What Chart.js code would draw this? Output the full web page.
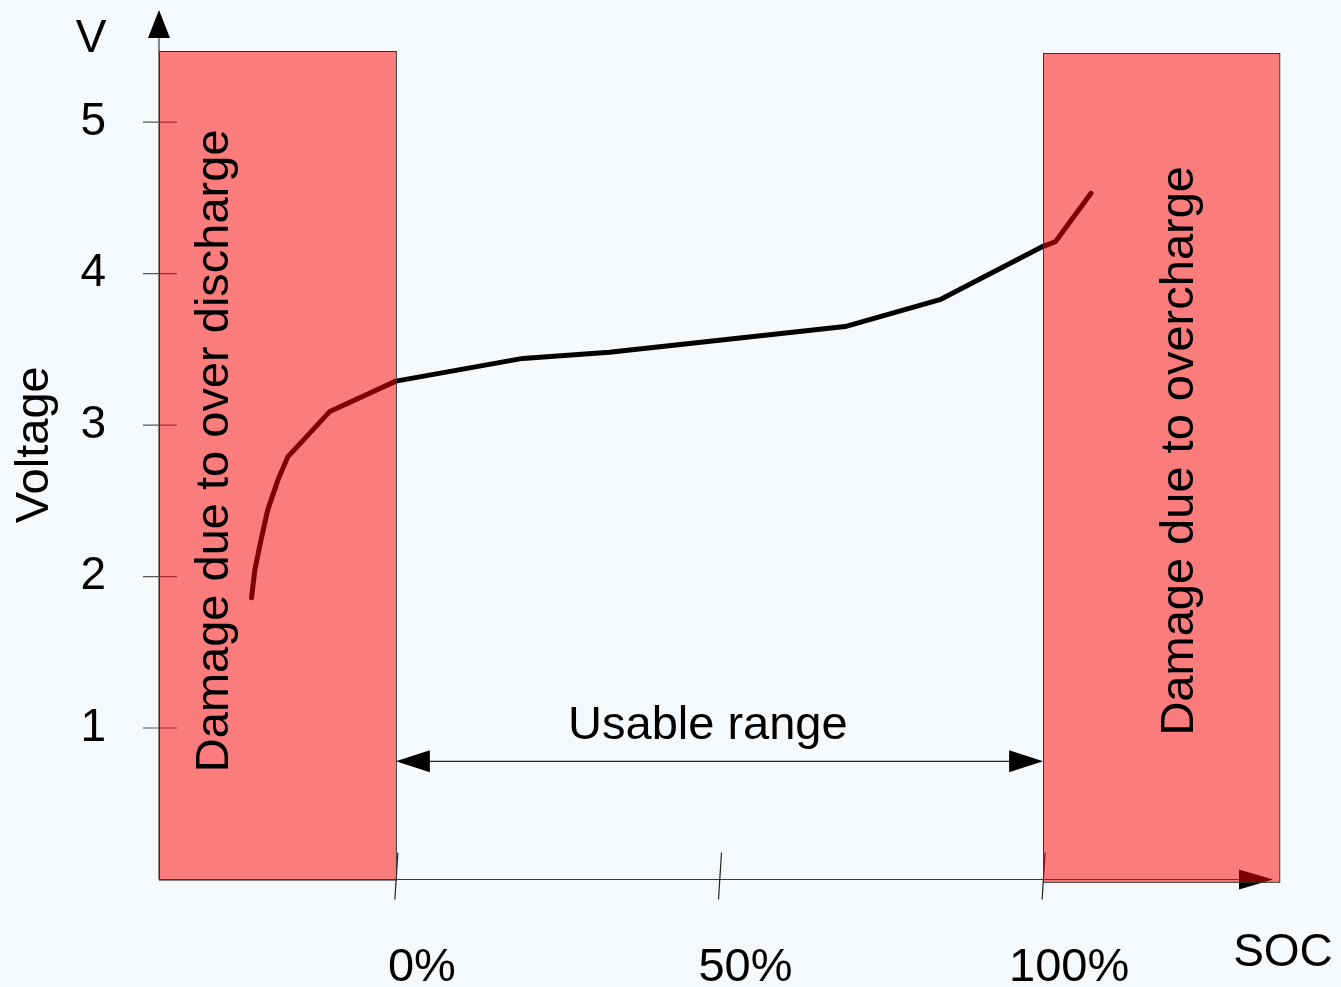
<!DOCTYPE html>
<html><head><meta charset="utf-8">
<script src="https://cdn.jsdelivr.net/npm/chart.js@4/dist/chart.umd.min.js"></script>
<style>html,body{margin:0;padding:0;background:#f5f9fb;overflow:hidden}#wrap{width:1341px;height:987px}</style>
</head><body><div id="wrap"><canvas id="c" width="1341" height="987"></canvas></div>
<script>
// ---- data ----
const socValues  = [-22.3, -21.8, -21.0, -19.8, -18.2, -16.7, -10.2, 0, 19.6, 33, 69.4, 84.2, 100, 101.9, 107.4];
const voltValues = [1.86, 2.04, 2.21, 2.44, 2.64, 2.79, 3.09, 3.29, 3.44, 3.48, 3.65, 3.83, 4.18, 4.21, 4.53];
const yTicks = [1, 2, 3, 4, 5];
const xTicks = [0, 50, 100];
const xTickLabels = ['0%', '50%', '100%'];
const zoneFrom = [-36.6, 100];
const zoneTo = [0, 136.5];
const zoneTop = [5.47, 5.455];
const zoneLabels = ['Damage due to over discharge', 'Damage due to overcharge'];
const usableRange = [0, 100];
const usableLabel = 'Usable range';
const xAxisName = 'SOC';
const yAxisName = 'V';
const yTitle = 'Voltage';

const FONT = "'Liberation Sans', Arial, sans-serif";
Chart.defaults.font.family = FONT;

const deco = {
  id: 'deco',
  beforeDraw(c) {
    const g = c.ctx;
    g.save(); g.fillStyle = '#f5f9fb'; g.fillRect(0, 0, c.width, c.height); g.restore();
  },
  beforeDatasetsDraw(c) {
    const g = c.ctx, xs = c.scales.x, ys = c.scales.y;
    const x0 = xs.left, y0 = ys.bottom;
    g.save();
    g.strokeStyle = '#3a3a3a'; g.lineWidth = 1.2;
    g.beginPath(); g.moveTo(x0, y0); g.lineTo(x0, ys.top + 26); g.stroke();
    g.beginPath(); g.moveTo(x0, y0); g.lineTo(xs.right - 40, y0); g.stroke();
    g.fillStyle = '#000';
    g.beginPath(); g.moveTo(x0, ys.top); g.lineTo(x0 - 11, ys.top + 28); g.lineTo(x0 + 11, ys.top + 28); g.closePath(); g.fill();
    const ax = xs.right - 7;
    g.beginPath(); g.moveTo(ax, y0); g.lineTo(ax - 34, y0 - 10); g.lineTo(ax - 34, y0 + 10); g.closePath(); g.fill();
    g.strokeStyle = '#555'; g.lineWidth = 1.2;
    yTicks.forEach(v => { const p = ys.getPixelForValue(v); g.beginPath(); g.moveTo(x0 - 16, p); g.lineTo(x0 + 18, p); g.stroke(); });
    g.strokeStyle = '#222';
    xTicks.forEach(v => { const p = xs.getPixelForValue(v); g.beginPath(); g.moveTo(p + 2, y0 - 27); g.lineTo(p - 1, y0 + 20); g.stroke(); });
    const ua = xs.getPixelForValue(usableRange[0]), ub = xs.getPixelForValue(usableRange[1]);
    const uy = ys.getPixelForValue(0.78);
    g.strokeStyle = '#222'; g.lineWidth = 1.2;
    g.beginPath(); g.moveTo(ua + 30, uy); g.lineTo(ub - 30, uy); g.stroke();
    g.fillStyle = '#000';
    g.beginPath(); g.moveTo(ua, uy); g.lineTo(ua + 34, uy - 11); g.lineTo(ua + 34, uy + 11); g.closePath(); g.fill();
    g.beginPath(); g.moveTo(ub, uy); g.lineTo(ub - 34, uy - 11); g.lineTo(ub - 34, uy + 11); g.closePath(); g.fill();
    g.restore();
  },
  afterDatasetsDraw(c) {
    const g = c.ctx, xs = c.scales.x, ys = c.scales.y;
    g.save();
    zoneFrom.forEach((f, i) => {
      const l = xs.getPixelForValue(f), r = xs.getPixelForValue(zoneTo[i]);
      const t = ys.getPixelForValue(zoneTop[i]), b = ys.getPixelForValue(0) + (i === 1 ? 2.5 : 0);
      g.fillStyle = 'rgba(255,0,0,0.5)';
      g.fillRect(l, t, r - l, b - t);
      g.strokeStyle = '#333'; g.lineWidth = 1;
      g.strokeRect(Math.round(l) + 0.5, Math.round(t) + 0.5, r - l, b - t);
    });
    g.restore();
  },
  afterDraw(c) {
    const g = c.ctx, xs = c.scales.x, ys = c.scales.y;
    g.save();
    g.fillStyle = '#000';
    g.font = '47px ' + FONT;
    const labelBase = [-26.0, 123.2];
    zoneLabels.forEach((t, i) => {
      g.save();
      g.translate(xs.getPixelForValue(labelBase[i]), ys.getPixelForValue(2.83));
      g.rotate(-Math.PI / 2);
      g.textAlign = 'center'; g.textBaseline = 'alphabetic';
      g.fillText(t, 0, 0);
      g.restore();
    });
    g.textAlign = 'center'; g.textBaseline = 'alphabetic';
    g.fillText(usableLabel, xs.getPixelForValue(48.2), ys.getPixelForValue(0.93));
    g.font = '46px ' + FONT;
    g.fillText(yAxisName, xs.left - 68, 52);
    g.fillText(xAxisName, xs.right + 3, ys.bottom + 86);
    g.restore();
  }
};

new Chart(document.getElementById('c'), {
  type: 'line',
  data: {
    datasets: [{
      data: socValues.map((x, i) => ({ x, y: voltValues[i] })),
      borderColor: '#000', borderWidth: 5, pointRadius: 0, tension: 0,
      borderCapStyle: 'round', borderJoinStyle: 'round', fill: false
    }]
  },
  options: {
    responsive: false, animation: false, devicePixelRatio: 1,
    layout: { padding: { top: 10, right: 61, left: 0, bottom: 0 } },
    plugins: { legend: { display: false }, tooltip: { enabled: false } },
    scales: {
      x: {
        type: 'linear', min: -36.6, max: 136.6,
        grid: { display: false, drawTicks: false }, border: { display: false },
        afterFit(s) { s.height = 107.5; s.paddingLeft = 0; s.paddingRight = 0; },
        afterBuildTicks(s) { s.ticks = xTicks.map(v => ({ value: v })); },
        ticks: {
          callback: (v, i) => xTickLabels[i], font: { size: 47 }, color: '#000',
          padding: 60, labelOffset: 26, maxRotation: 0, autoSkip: false
        }
      },
      y: {
        type: 'linear', min: 0, max: 5.74,
        grid: { display: false, drawTicks: false }, border: { display: false },
        afterFit(s) { s.width = 159; s.paddingTop = 0; s.paddingBottom = 0; },
        afterBuildTicks(s) { s.ticks = yTicks.map(v => ({ value: v })); },
        ticks: { font: { size: 46 }, color: '#000', padding: 53 },
        title: { display: true, text: yTitle, font: { size: 47 }, color: '#000', padding: { top: 7, bottom: 0 } }
      }
    }
  },
  plugins: [deco]
});
</script>
</body></html>
